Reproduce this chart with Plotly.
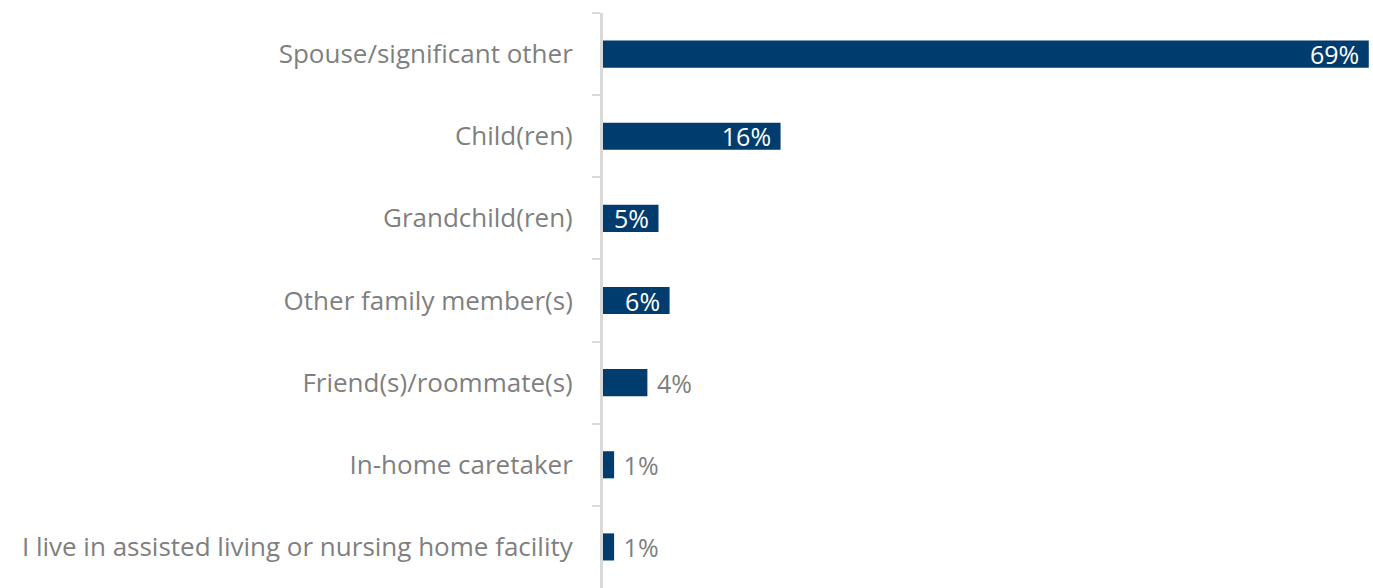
import plotly.graph_objects as go

categories = [
    "Spouse/significant other",
    "Child(ren)",
    "Grandchild(ren)",
    "Other family member(s)",
    "Friend(s)/roommate(s)",
    "In-home caretaker",
    "I live in assisted living or nursing home facility",
]
shares = [69, 16, 5, 6, 4, 1, 1]
label_pos = ["inside", "inside", "inside", "inside", "outside", "outside", "outside"]

BAR = "#003C6E"
GREY = "#7F7F7F"
FONT = "Open Sans, sans-serif"
SIZE = 25
NBSP = "\u00a0"

# inside labels get a little breathing room before the bar end,
# outside labels a little gap after it
bar_text = [
    (f"{v}%{NBSP}" if pos == "inside" else f"{NBSP}{v}%")
    for v, pos in zip(shares, label_pos)
]

fig = go.Figure(
    go.Bar(
        x=shares,
        y=categories,
        orientation="h",
        marker=dict(color=BAR, line=dict(width=0)),
        text=bar_text,
        textposition=label_pos,
        insidetextanchor="end",
        insidetextfont=dict(color="white", size=SIZE, family=FONT),
        outsidetextfont=dict(color=GREY, size=SIZE, family=FONT),
        cliponaxis=False,
        hoverinfo="skip",
    )
)

fig.update_layout(
    width=1373,
    height=588,
    margin=dict(l=603, r=2, t=13, b=0),
    paper_bgcolor="white",
    plot_bgcolor="white",
    bargap=0.67,
    showlegend=False,
    font=dict(family=FONT, color=GREY, size=SIZE),
    uniformtext=dict(mode="show", minsize=SIZE),
)
fig.update_xaxes(
    range=[0, 69.2],
    visible=False,
)
fig.update_yaxes(
    autorange="reversed",
    showline=True,
    linecolor="#D9D9D9",
    linewidth=3,
    ticks="outside",
    tickson="boundaries",
    ticklen=8,
    tickwidth=2,
    tickcolor="#D9D9D9",
    ticklabelstandoff=22,
    showgrid=False,
    tickfont=dict(family=FONT, color=GREY, size=26),
)

fig.write_html("out.html")
